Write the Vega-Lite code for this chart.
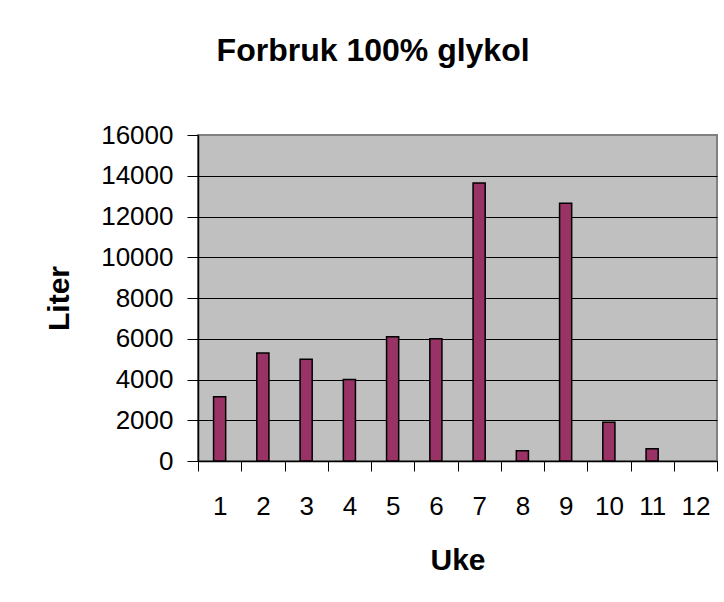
{
  "$schema": "https://vega.github.io/schema/vega-lite/v6.json",
  "width": 519,
  "height": 326,
  "autosize": {"type": "none"},
  "padding": {"left": 198, "top": 135, "right": 7, "bottom": 141},
  "background": "white",
  "title": {
    "text": "Forbruk 100% glykol",
    "font": "Liberation Sans",
    "fontSize": 32,
    "fontWeight": "bold",
    "color": "black",
    "anchor": "middle",
    "frame": "bounds",
    "offset": 54,
    "dx": -8
  },
  "data": {
    "values": [
      {"Uke": "1", "Liter": 3150},
      {"Uke": "2", "Liter": 5300},
      {"Uke": "3", "Liter": 5000},
      {"Uke": "4", "Liter": 4000},
      {"Uke": "5", "Liter": 6100},
      {"Uke": "6", "Liter": 6000},
      {"Uke": "7", "Liter": 13650},
      {"Uke": "8", "Liter": 500},
      {"Uke": "9", "Liter": 12650},
      {"Uke": "10", "Liter": 1900},
      {"Uke": "11", "Liter": 600},
      {"Uke": "12", "Liter": 0}
    ]
  },
  "mark": {"type": "bar", "fill": "#993366", "stroke": "black", "width": {"band": 0.28}},
  "encoding": {
    "x": {
      "field": "Uke",
      "type": "ordinal",
      "sort": null,
      "scale": {"domain": ["1","2","3","4","5","6","7","8","9","10","11","12"], "paddingInner": 0, "paddingOuter": 0},
      "axis": {
        "title": "Uke",
        "titleFont": "Liberation Sans",
        "titleFontSize": 30,
        "titleFontWeight": "bold",
        "titleColor": "black",
        "titlePadding": 26,
        "labelFont": "Liberation Sans",
        "labelFontSize": 26,
        "labelColor": "black",
        "labelAngle": 0,
        "labelPadding": 22,
        "tickBand": "extent",
        "tickSize": 10,
        "tickColor": "black",
        "domainColor": "black",
        "domainWidth": 1.5,
        "grid": false
      }
    },
    "y": {
      "field": "Liter",
      "type": "quantitative",
      "scale": {"domain": [0, 16000], "nice": false},
      "axis": {
        "title": "Liter",
        "titleFont": "Liberation Sans",
        "titleFontSize": 30,
        "titleFontWeight": "bold",
        "titleColor": "black",
        "titlePadding": 26,
        "values": [0, 2000, 4000, 6000, 8000, 10000, 12000, 14000, 16000],
        "format": "d",
        "labelFont": "Liberation Sans",
        "labelFontSize": 26,
        "labelColor": "black",
        "labelPadding": 14,
        "tickSize": 11,
        "tickColor": "black",
        "domainColor": "black",
        "domainWidth": 1.5,
        "grid": true,
        "gridColor": {"condition": {"test": "datum.value == 16000", "value": "#808080"}, "value": "black"},
        "gridOpacity": 1,
        "gridWidth": 1.2
      }
    },
    "strokeWidth": {"condition": {"test": "datum.Liter == 0", "value": 0}, "value": 1.5}
  },
  "config": {
    "view": {"fill": "#C0C0C0", "stroke": "#808080", "strokeWidth": 2}
  }
}
